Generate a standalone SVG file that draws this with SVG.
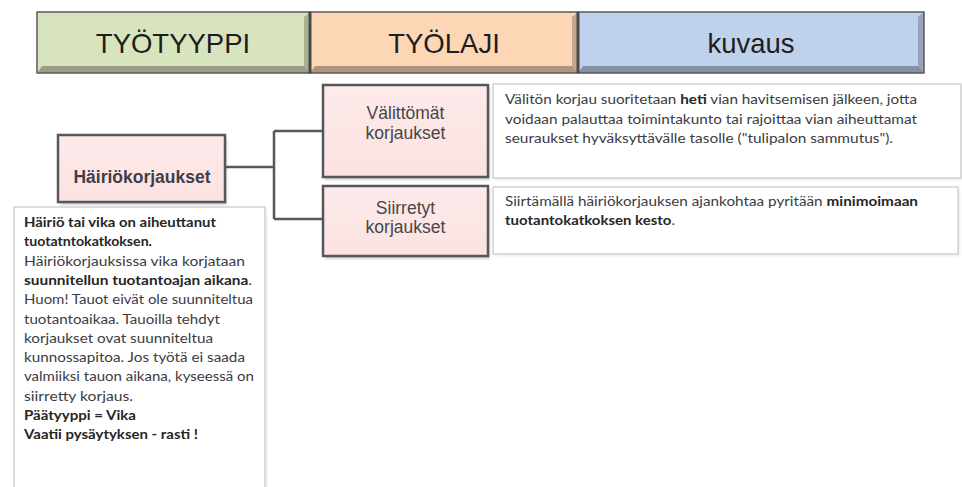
<svg xmlns="http://www.w3.org/2000/svg" width="962" height="487" viewBox="0 0 962 487">
  <defs>
    <linearGradient id="pinkFill" x1="0" y1="0" x2="0" y2="1">
      <stop offset="0" stop-color="#fdeaea"/>
      <stop offset="1" stop-color="#fbe2e2"/>
    </linearGradient>
    <filter id="soft" x="-5%" y="-5%" width="115%" height="120%">
      <feGaussianBlur stdDeviation="1.2"/>
    </filter>
  </defs>
  <style>
    .hdr { font-family: "Liberation Sans", Arial, sans-serif; font-size: 27.5px; fill: #1e1e1e; text-anchor: middle; }
    .bevel-b { opacity: 0.3; fill: #000; }
    .bevel-r { opacity: 0.22; fill: #000; }
    .hdr-line { fill: none; stroke: #5a5a5a; stroke-width: 1.5; }
    .sep { stroke: #4a4a4a; stroke-width: 3; }
    .node { fill: url(#pinkFill); stroke: #575757; stroke-width: 2.5; }
    .shadow { fill: #000; opacity: 0.18; filter: url(#soft); }
    .lbl { font-family: "Liberation Sans", Arial, sans-serif; font-size: 17.5px; fill: #474747; text-anchor: middle; }
    .lbl-b { font-family: "Liberation Sans", Arial, sans-serif; font-size: 17.5px; font-weight: bold; fill: #3f3f4a; text-anchor: middle; }
    .note { fill: #fff; stroke: #d2d2d2; stroke-width: 1.5; }
    .note-shadow { fill: #000; opacity: 0.08; filter: url(#soft); }
    .txt { font-family: Lato, "Liberation Sans", sans-serif; font-size: 12.5px; fill: #3c3c44; }
    .b { font-weight: bold; fill: #262626; }
    .conn { fill: none; stroke: #585858; stroke-width: 2.5; }
  </style>

  <!-- column headers -->
  <g id="hdr-tyotyyppi">
    <rect x="37" y="12" width="273" height="61" fill="#d8e4bd"/>
    <polygon class="bevel-b" points="37,73 310,73 304,66 42,66"/>
    <polygon class="bevel-r" points="310,12 310,73 304,66 304,17"/>
    <rect class="hdr-line" x="37" y="12" width="273" height="61"/>
    <text class="hdr" x="173" y="53">TYÖTYYPPI</text>
  </g>
  <g id="hdr-tyolaji">
    <rect x="310" y="12" width="268" height="61" fill="#fcd6b5"/>
    <polygon class="bevel-b" points="310,73 578,73 572,66 315,66"/>
    <polygon class="bevel-r" points="578,12 578,73 572,66 572,17"/>
    <rect class="hdr-line" x="310" y="12" width="268" height="61"/>
    <text class="hdr" x="444" y="53">TYÖLAJI</text>
  </g>
  <g id="hdr-kuvaus">
    <rect x="578" y="12" width="346" height="61" fill="#bfd2ec"/>
    <polygon class="bevel-b" points="578,73 924,73 918,66 583,66"/>
    <polygon class="bevel-r" points="924,12 924,73 918,66 918,17"/>
    <rect class="hdr-line" x="578" y="12" width="346" height="61"/>
    <text class="hdr" x="751" y="53">kuvaus</text>
  </g>
  <line class="sep" x1="310" y1="12" x2="310" y2="73"/>
  <line class="sep" x1="578" y1="12" x2="578" y2="73"/>

  <!-- connectors -->
  <g id="connectors">
    <path class="conn" d="M225 167 H274 M274 131 V219 M274 131 H323 M274 219 H323"/>
  </g>

  <!-- work type node -->
  <g id="node-hairiokorjaukset">
    <rect class="shadow" x="60" y="138" width="167" height="67"/>
    <rect class="node" x="58" y="135" width="167" height="67"/>
    <text class="lbl-b" x="142" y="183">Häiriökorjaukset</text>
  </g>

  <!-- work category nodes -->
  <g id="node-valittomat">
    <rect class="shadow" x="325" y="88" width="165" height="92"/>
    <rect class="node" x="323" y="85" width="165" height="92"/>
    <text class="lbl" x="405.5" y="119">Välittömät</text>
    <text class="lbl" x="405.5" y="139">korjaukset</text>
  </g>
  <g id="node-siirretyt">
    <rect class="shadow" x="325" y="189" width="165" height="70"/>
    <rect class="node" x="323" y="186" width="165" height="70"/>
    <text class="lbl" x="405.5" y="214">Siirretyt</text>
    <text class="lbl" x="405.5" y="233">korjaukset</text>
  </g>

  <!-- notes -->
  <g id="note-hairio">
    <rect class="note-shadow" x="16" y="209" width="251" height="300"/>
    <rect class="note" x="14" y="207" width="251" height="300"/>
    <text class="txt b" x="24" y="227" textLength="192" lengthAdjust="spacingAndGlyphs">Häiriö tai vika on aiheuttanut</text>
    <text class="txt b" x="24" y="246.3" textLength="128" lengthAdjust="spacingAndGlyphs">tuotatntokatkoksen.</text>
    <text class="txt" x="24" y="265.6" textLength="221" lengthAdjust="spacingAndGlyphs">Häiriökorjauksissa vika korjataan</text>
    <text class="txt" x="24" y="284.9" textLength="228" lengthAdjust="spacingAndGlyphs"><tspan class="b">suunnitellun tuotantoajan aikana</tspan>.</text>
    <text class="txt" x="24" y="304.2" textLength="229" lengthAdjust="spacingAndGlyphs">Huom! Tauot eivät ole suunniteltua</text>
    <text class="txt" x="24" y="323.5" textLength="196" lengthAdjust="spacingAndGlyphs">tuotantoaikaa. Tauoilla tehdyt</text>
    <text class="txt" x="24" y="342.8" textLength="189" lengthAdjust="spacingAndGlyphs">korjaukset ovat suunniteltua</text>
    <text class="txt" x="24" y="362.1" textLength="221" lengthAdjust="spacingAndGlyphs">kunnossapitoa. Jos työtä ei saada</text>
    <text class="txt" x="24" y="381.4" textLength="230" lengthAdjust="spacingAndGlyphs">valmiiksi tauon aikana, kyseessä on</text>
    <text class="txt" x="24" y="400.7" textLength="109" lengthAdjust="spacingAndGlyphs">siirretty korjaus.</text>
    <text class="txt b" x="24" y="420" textLength="112" lengthAdjust="spacingAndGlyphs">Päätyyppi = Vika</text>
    <text class="txt b" x="24" y="439.3" textLength="174" lengthAdjust="spacingAndGlyphs">Vaatii pysäytyksen - rasti !</text>
  </g>

  <g id="note-valittomat">
    <rect class="note-shadow" x="495" y="86" width="468" height="94"/>
    <rect class="note" x="493" y="84" width="468" height="94"/>
    <text class="txt" x="505" y="104" textLength="412" lengthAdjust="spacingAndGlyphs">Välitön korjau suoritetaan <tspan class="b">heti</tspan> vian havitsemisen jälkeen, jotta</text>
    <text class="txt" x="505" y="123.5" textLength="412" lengthAdjust="spacingAndGlyphs">voidaan palauttaa toimintakunto tai rajoittaa vian aiheuttamat</text>
    <text class="txt" x="505" y="143" textLength="388" lengthAdjust="spacingAndGlyphs">seuraukset hyväksyttävälle tasolle ("tulipalon sammutus").</text>
  </g>

  <g id="note-siirretyt">
    <rect class="note-shadow" x="495" y="189" width="465" height="67"/>
    <rect class="note" x="493" y="187" width="465" height="67"/>
    <text class="txt" x="505" y="205.5" textLength="413" lengthAdjust="spacingAndGlyphs">Siirtämällä häiriökorjauksen ajankohtaa pyritään <tspan class="b">minimoimaan</tspan></text>
    <text class="txt" x="505" y="225" textLength="170" lengthAdjust="spacingAndGlyphs"><tspan class="b">tuotantokatkoksen kesto</tspan>.</text>
  </g>
</svg>
